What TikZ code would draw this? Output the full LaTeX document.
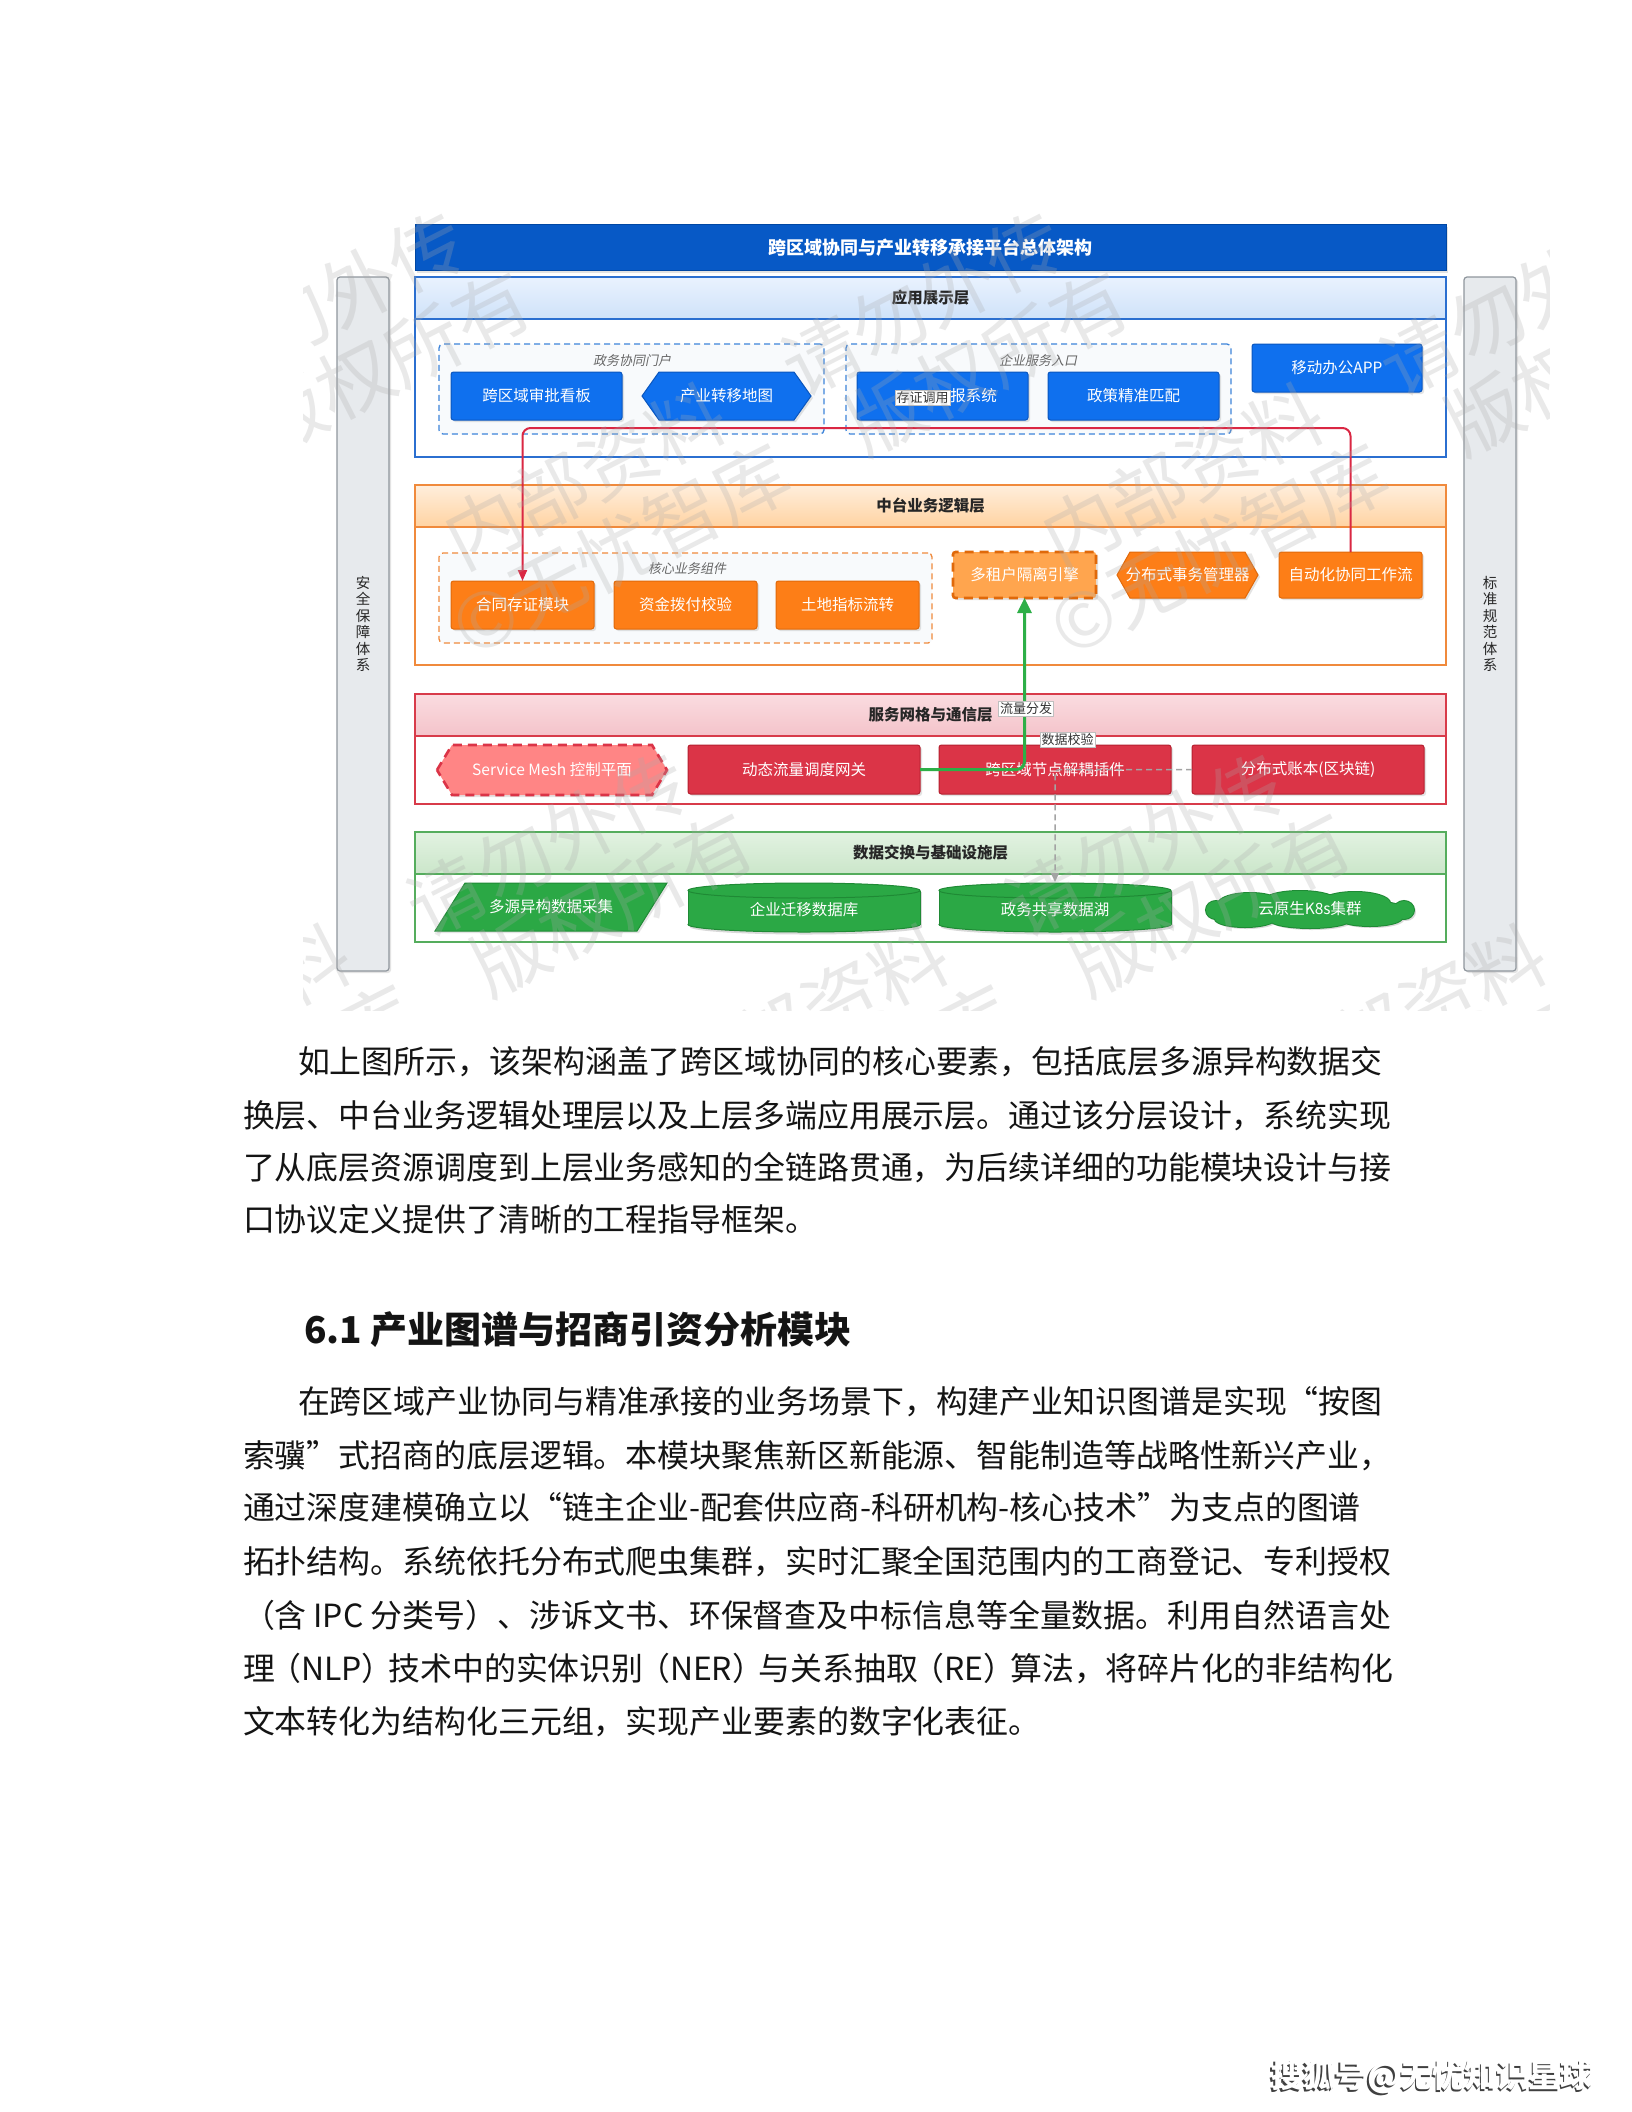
\documentclass[tikz,border=0pt]{standalone}
\usepackage{fontspec}
\setmainfont{Noto Sans CJK SC}
\newfontfamily\cjkit[FakeSlant=0.2]{Noto Sans CJK SC}
\usetikzlibrary{shadows,arrows.meta}

\definecolor{ttl}{HTML}{0759C6}
\definecolor{ttlD}{HTML}{0047A3}
\definecolor{appB}{HTML}{2B6FD0}
\definecolor{appHa}{HTML}{E9F2FE}
\definecolor{appHb}{HTML}{CFE2F9}
\definecolor{appbx}{HTML}{0F70EE}
\definecolor{appbxD}{HTML}{0A56BE}
\definecolor{grpB}{HTML}{3D84DA}
\definecolor{grpF}{HTML}{F8FAFC}
\definecolor{midB}{HTML}{F08A3C}
\definecolor{midHa}{HTML}{FFEEDC}
\definecolor{midHb}{HTML}{FFD3A2}
\definecolor{orbx}{HTML}{FD7E17}
\definecolor{orbxD}{HTML}{E0690A}
\definecolor{orlt}{HTML}{FFA54E}
\definecolor{svB}{HTML}{D83B4A}
\definecolor{svHa}{HTML}{FADCE0}
\definecolor{svHb}{HTML}{F4C3CA}
\definecolor{rdbx}{HTML}{DB3447}
\definecolor{rdbxD}{HTML}{B5202F}
\definecolor{rdlt}{HTML}{FF8585}
\definecolor{dtB}{HTML}{55AD5D}
\definecolor{dtHa}{HTML}{E2F2E1}
\definecolor{dtHb}{HTML}{CBE6CA}
\definecolor{gnbx}{HTML}{2BA845}
\definecolor{gnbxD}{HTML}{1F8A35}
\definecolor{sideF}{HTML}{E7EAED}
\definecolor{sideB}{HTML}{8F969D}
\definecolor{redln}{HTML}{DA2743}
\definecolor{grnln}{HTML}{2DAF47}
\definecolor{grayln}{HTML}{A3A3A3}
\definecolor{wmc}{HTML}{AAAAAA}

\newcommand\jline[1]{\hbox to 1148pt{#1\hfil}}
\newcommand\pk{\kern-0.17em}

\newcommand\cylnode[6]{%
  \pgfmathsetmacro\cyx{(#1+#2)/2}%
  \pgfmathsetmacro\cyr{(#2-#1)/2}%
  \fill[black!15] (\cyx+2,#4-5) ellipse[x radius=\cyr, y radius=7.5];
  \fill[black!15] (#1+2,#3+9) rectangle (#2+2,#4-5);
  \draw[gnbxD, fill=gnbx, line width=1pt] (\cyx,#4-7.5) ellipse[x radius=\cyr, y radius=7.5];
  \fill[gnbx] (#1,#3+7.5) rectangle (#2,#4-7.5);
  \draw[gnbxD, line width=1pt] (#1,#3+7.5) -- (#1,#4-7.5) (#2,#3+7.5) -- (#2,#4-7.5);
  \draw[gnbxD, fill=gnbx, line width=1pt] (\cyx,#3+7.5) ellipse[x radius=\cyr, y radius=7.5];
  \node[boxtxt] (#5) at (\cyx,{(#3+#4)/2+2}) {#6};
}

\begin{document}
\begin{tikzpicture}[x=1pt,y=-1pt,
  every node/.style={inner sep=0pt, outer sep=0pt},
  shd/.style={drop shadow={shadow xshift=2pt, shadow yshift=-2pt, opacity=0.22}},
  boxtxt/.style={text=white, font=\fontsize{15.5}{18}\selectfont},
  bx/.style={rectangle, rounded corners=2.5pt, line width=1pt, shd, boxtxt},
  appbox/.style={bx, fill=appbx, draw=appbxD, minimum width=171pt, minimum height=48pt},
  orbox/.style={bx, fill=orbx, draw=orbxD, minimum width=143pt, minimum height=48pt},
  rdbox/.style={bx, fill=rdbx, draw=rdbxD, minimum width=232pt, minimum height=49pt},
  layerbox/.style={rectangle, minimum width=1031pt, fill=white, line width=1.5pt},
  hdrbox/.style={rectangle, minimum width=1031pt, minimum height=42pt, line width=1.5pt,
     font=\bfseries\fontsize{15.5}{18}\selectfont, text=black!85},
  grp/.style={rectangle, rounded corners=4pt, line width=1.3pt, dash pattern=on 6pt off 4pt},
  grplbl/.style={font=\cjkit\fontsize{13}{15}\selectfont, text=black!60},
  sidebar/.style={rectangle, rounded corners=3pt, minimum width=52pt, minimum height=694pt,
     fill=sideF, draw=sideB, line width=1.2pt, align=center, shd,
     font=\fontsize{14.5}{16.5}\selectfont, text=black!85},
  elbl/.style={fill=white, draw=black!25, line width=0.6pt, inner sep=1.5pt,
     font=\fontsize{13}{15}\selectfont, text=black!80},
  redconn/.style={draw=redln, line width=2pt, rounded corners=8pt, -{Triangle[length=11pt,width=9pt]}},
  grnconn/.style={draw=grnln, line width=3pt, rounded corners=8pt, -{Triangle[length=15pt,width=14pt]}},
  grayconn/.style={draw=grayln, line width=1.5pt, dash pattern=on 6pt off 4pt, rounded corners=4pt, -{Triangle[length=9pt,width=8pt]}},
  para/.style={anchor=base west, font=\fontsize{31.9}{32}\selectfont, text=black!92},
  wm/.style={font=\fontsize{76}{76}\selectfont, text=wmc, text opacity=0.26, rotate=27, anchor=west}
]
\useasboundingbox (0,0) rectangle (1632,2112);
\fill[white] (0,0) rectangle (1632,2112);

% ---------- side bars ----------
\node[sidebar] (secbar) at (363,624) {安\\全\\保\\障\\体\\系};
\node[sidebar] (stdbar) at (1490,624) {标\\准\\规\\范\\体\\系};

% ---------- title ----------
\node[rectangle, minimum width=1031pt, minimum height=46pt, fill=ttl, draw=ttlD, line width=1pt, shd,
      text=white, font=\bfseries\fontsize{18}{20}\selectfont] (title) at (930.5,247.5)
      {跨区域协同与产业转移承接平台总体架构};

% ---------- layers ----------
\node[layerbox, draw=appB, minimum height=180pt] (appLayer) at (930.5,367) {};
\node[hdrbox, draw=appB, top color=appHa, bottom color=appHb] (appHdr) at (930.5,298) {应用展示层};
\node[layerbox, draw=midB, minimum height=180pt] (midLayer) at (930.5,575) {};
\node[hdrbox, draw=midB, top color=midHa, bottom color=midHb] (midHdr) at (930.5,506) {中台业务逻辑层};
\node[layerbox, draw=svB, minimum height=110pt] (svLayer) at (930.5,749) {};
\node[hdrbox, draw=svB, top color=svHa, bottom color=svHb] (svHdr) at (930.5,715) {服务网格与通信层};
\node[layerbox, draw=dtB, minimum height=110pt] (dtLayer) at (930.5,887) {};
\node[hdrbox, draw=dtB, top color=dtHa, bottom color=dtHb] (dtHdr) at (930.5,853) {数据交换与基础设施层};

% ---------- groups ----------
\node[grp, draw=grpB, fill=grpF, minimum width=385pt, minimum height=90pt] (g1) at (631.5,389) {};
\node[grplbl] (g1l) at (632,361) {政务协同门户};
\node[grp, draw=grpB, fill=grpF, minimum width=385pt, minimum height=90pt] (g2) at (1038.5,389) {};
\node[grplbl] (g2l) at (1038,361) {企业服务入口};
\node[grp, draw=midB, fill=grpF, minimum width=493pt, minimum height=90pt] (g3) at (685.5,598) {};
\node[grplbl] (g3l) at (687,569) {核心业务组件};

% ---------- application layer boxes ----------
\node[appbox] (b1) at (536.5,396) {跨区域审批看板};
\path[fill=appbx, draw=appbxD, line width=1pt, shd] (642,396) -- (659,372) -- (794,372) -- (811,396) -- (794,420) -- (659,420) -- cycle;
\node[boxtxt] (b2) at (726.5,396) {产业转移地图};
\node[appbox] (b3) at (942.5,396) {\phantom{存证调用}报系统};
\node[appbox] (b4) at (1133.5,396) {政策精准匹配};
\node[appbox, minimum width=170pt] (b5) at (1337,368) {移动办公APP};

% ---------- middle layer boxes ----------
\node[orbox] (c1) at (522.5,605) {合同存证模块};
\node[orbox] (c2) at (685.5,605) {资金拨付校验};
\node[orbox] (c3) at (847.5,605) {土地指标流转};
\node[bx, fill=orlt, draw=orbxD, line width=2.6pt, dash pattern=on 9pt off 6pt,
      minimum width=143pt, minimum height=46pt] (c4) at (1024.5,575) {多租户隔离引擎};
\path[fill=orbx, draw=orbxD, line width=1pt, shd] (1117,575) -- (1130,552) -- (1245,552) -- (1258,575) -- (1245,598) -- (1130,598) -- cycle;
\node[boxtxt] (c5) at (1187.5,575) {分布式事务管理器};
\node[orbox, minimum height=46pt] (c6) at (1350.5,575) {自动化协同工作流};

% ---------- service layer boxes ----------
\path[fill=rdlt, draw=rdbx, line width=2.6pt, dash pattern=on 9pt off 6pt, shd] (437,770) -- (452,745) -- (652,745) -- (667,770) -- (652,795) -- (452,795) -- cycle;
\node[boxtxt] (s1) at (552,770) {Service Mesh 控制平面};
\node[rdbox] (s2) at (804,769.5) {动态流量调度网关};
\node[rdbox] (s3) at (1055,769.5) {跨区域节点解耦插件};
\node[rdbox] (s4) at (1308,769.5) {分布式账本(区块链)};

% ---------- data layer shapes ----------
\path[fill=gnbx, draw=gnbxD, line width=1pt, shd] (435,931) -- (465,883) -- (667,883) -- (637,931) -- cycle;
\node[boxtxt] (d1) at (551,907) {多源异构数据采集};
\cylnode{688}{920}{883}{932}{d2}{企业迁移数据库}
\cylnode{939}{1171}{883}{932}{d3}{政务共享数据湖}
\coordinate (d3top) at (1055,882);
% cloud made of overlapping ellipses
\begin{scope}[shift={(2,2)}]
  \fill[black!15] (1310,910) ellipse[x radius=96, y radius=13] (1250,904) ellipse[x radius=32, y radius=11]
    (1300,902) ellipse[x radius=38, y radius=11] (1355,903) ellipse[x radius=35, y radius=11]
    (1245,919) ellipse[x radius=30, y radius=8] (1310,920) ellipse[x radius=40, y radius=8]
    (1370,918) ellipse[x radius=32, y radius=8] (1216,910) ellipse[x radius=10, y radius=9]
    (1404,910) ellipse[x radius=10, y radius=9];
\end{scope}
\draw[gnbxD, line width=2pt] (1310,910) ellipse[x radius=96, y radius=13] (1250,904) ellipse[x radius=32, y radius=11]
    (1300,902) ellipse[x radius=38, y radius=11] (1355,903) ellipse[x radius=35, y radius=11]
    (1245,919) ellipse[x radius=30, y radius=8] (1310,920) ellipse[x radius=40, y radius=8]
    (1370,918) ellipse[x radius=32, y radius=8] (1216,910) ellipse[x radius=10, y radius=9]
    (1404,910) ellipse[x radius=10, y radius=9];
\fill[gnbx] (1310,910) ellipse[x radius=96, y radius=13] (1250,904) ellipse[x radius=32, y radius=11]
    (1300,902) ellipse[x radius=38, y radius=11] (1355,903) ellipse[x radius=35, y radius=11]
    (1245,919) ellipse[x radius=30, y radius=8] (1310,920) ellipse[x radius=40, y radius=8]
    (1370,918) ellipse[x radius=32, y radius=8] (1216,910) ellipse[x radius=10, y radius=9]
    (1404,910) ellipse[x radius=10, y radius=9];
\node[boxtxt] (d4) at (1310,909) {云原生K8s集群};

% ---------- connectors ----------
\coordinate (rtop) at (937,428);
\draw[redconn] (c6.north) |- (rtop) -| (c1.north);
\draw[grnconn] (s2.east) -| (c4.south);
\draw[grayconn] (s4.west) -| (d3top);

% ---------- connector labels ----------
\node[elbl] (lb1) at (922.5,397.5) {存证调用};
\node[elbl] (lb2) at (1026,708.5) {流量分发};
\node[elbl] (lb3) at (1067.5,739.5) {数据校验};

% ---------- watermark ----------
\begin{scope}
\clip (303,188) rectangle (1549,1010);
\foreach \ox/\oy [count=\k] in {-115/528, 483/528, 1081/528, 108/1069, 706/1069, 1304/1069} {
  \node[wm] (wma\k) at (\ox-34,\oy+17) {内部资料\hspace{1em}请勿外传};
  \node[wm] (wmb\k) at (\ox-26,\oy+105) {©无忧智库\hspace{1em}版权所有};
}
\end{scope}

% ---------- body text ----------
\node[para] (p1a) at (243,1073) {\jline{\hskip 55pt 如上图所示，该架构涵盖了跨区域协同的核心要素，包括底层多源异构数据交}};
\node[para] (p1b) at (243,1127) {\jline{换层、中台业务逻辑处理层以及上层多端应用展示层。通过该分层设计，系统实现}};
\node[para] (p1c) at (243,1179) {\jline{了从底层资源调度到上层业务感知的全链路贯通，为后续详细的功能模块设计与接}};
\node[para] (p1d) at (243,1231) {口协议定义提供了清晰的工程指导框架。};

\node[anchor=base west, font=\bfseries\fontsize{37}{38}\selectfont, text=black!92] (h61) at (304,1343) {6.1 产业图谱与招商引资分析模块};

\node[para] (p2a) at (243,1413) {\jline{\hskip 55pt 在跨区域产业协同与精准承接的业务场景下，构建产业知识图谱是实现“按图}};
\node[para] (p2b) at (243,1467) {\jline{索骥”式招商的底层逻辑。本模块聚焦新区新能源、智能制造等战略性新兴产业，}};
\node[para] (p2c) at (243,1519) {\jline{通过深度建模确立以“链主企业-配套供应商-科研机构-核心技术”为支点的图谱}};
\node[para] (p2d) at (243,1573) {\jline{拓扑结构。系统依托分布式爬虫集群，实时汇聚全国范围内的工商登记、专利授权}};
\node[para] (p2e) at (243,1627) {\jline{（含 IPC 分类号）、涉诉文书、环保督查及中标信息等全量数据。利用自然语言处}};
\node[para] (p2f) at (243,1680) {\jline{理\pk（NLP）\pk 技术中的实体识别\pk（NER）\pk 与关系抽取\pk（RE）\pk 算法，将碎片化的非结构化}};
\node[para] (p2g) at (243,1733) {文本转化为结构化三元组，实现产业要素的数字化表征。};

% ---------- footer mark ----------
\node[font=\bfseries\fontsize{32}{32}\selectfont, text=black!75] (sohuS) at (1430.5,2078.5) {搜狐号@无忧知识星球};
\node[font=\bfseries\fontsize{32}{32}\selectfont, text=white] (sohu) at (1432,2077) {搜狐号@无忧知识星球};
\end{tikzpicture}
\end{document}
